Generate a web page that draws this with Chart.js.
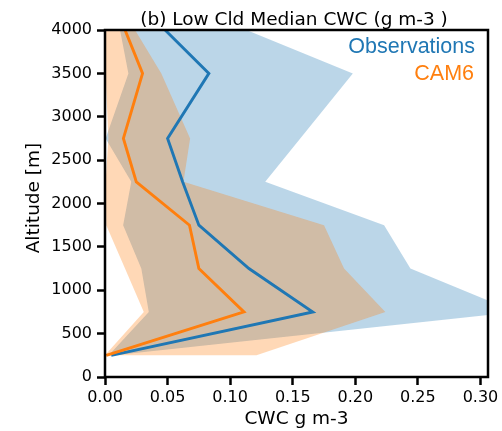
<!DOCTYPE html>
<html>
<head>
<meta charset="utf-8">
<script src="https://cdn.jsdelivr.net/npm/chart.js@4"></script>
<style>
  html, body { margin: 0; padding: 0; background: #fff; }
  #c { display: block; }
</style>
</head>
<body>
<canvas id="c" width="502" height="431"></canvas>
<script>
// ---- data ----
const altitudes = [250, 750, 1250, 1750, 2250, 2750, 3500, 4000];
const obsMedian = [0.005, 0.166, 0.115, 0.075, 0.062, 0.050, 0.083, 0.048];
const obsLow    = [0.003, 0.035, 0.029, 0.0145, 0.021, 0.0005, 0.0187, 0.012];
const obsHigh   = [0.007, 0.328, 0.244, 0.223, 0.128, 0.156, 0.198, 0.113];
const camMedian = [0.001, 0.111, 0.075, 0.0675, 0.025, 0.0147, 0.030, 0.016];
const camLow    = [0.000, 0.031, 0.016, 0.001, 0.0005, 0.0027, 0.0005, 0.0005];
const camHigh   = [0.121, 0.224, 0.191, 0.175, 0.0627, 0.068, 0.045, 0.024];
const xTicks = [0, 0.05, 0.10, 0.15, 0.20, 0.25, 0.30];
const yTicks = [0, 500, 1000, 1500, 2000, 2500, 3000, 3500, 4000];
const seriesNames = ['Observations', 'CAM6'];
const titleText = '(b) Low Cld Median CWC (g m-3 )';
const xTitle = 'CWC g m-3';
const yTitle = 'Altitude [m]';

const BLUE = '#1f77b4';
const ORANGE = '#ff7f0e';

function profile(vals) {
  return vals.map((v, i) => ({ x: v, y: altitudes[i] }));
}
function band(low, high) {
  const pts = low.map((v, i) => ({ x: v, y: altitudes[i] }));
  for (let i = high.length - 1; i >= 0; i--) pts.push({ x: high[i], y: altitudes[i] });
  return pts;
}

const decor = {
  id: 'decor',
  afterDraw(chart) {
    const ctx = chart.ctx;
    const a = chart.chartArea;
    ctx.save();
    // frame
    ctx.strokeStyle = '#000';
    ctx.lineWidth = 2.5;
    ctx.strokeRect(a.left, a.top, a.right - a.left, a.bottom - a.top);
    // title
    ctx.fillStyle = '#000';
    ctx.font = '18.5px "DejaVu Sans"';
    ctx.textAlign = 'center';
    ctx.textBaseline = 'alphabetic';
    ctx.fillText(titleText, 294, 25);
    // x title
    ctx.fillText(xTitle, (a.left + a.right) / 2, 424);
    // y title
    ctx.save();
    ctx.translate(34.5, 198);
    ctx.rotate(-Math.PI / 2);
    ctx.textBaseline = 'middle';
    ctx.fillText(yTitle, 0, 0);
    ctx.restore();
    // legend text
    ctx.font = '21.5px "Liberation Sans"';
    ctx.textAlign = 'right';
    ctx.fillStyle = BLUE;
    ctx.fillText(seriesNames[0], a.right - 13, 53);
    ctx.fillStyle = ORANGE;
    ctx.fillText(seriesNames[1], a.right - 14, 80);
    ctx.restore();
  }
};

new Chart(document.getElementById('c'), {
  type: 'scatter',
  data: {
    datasets: [
      { label: 'obs range', data: band(obsLow, obsHigh), showLine: true, fill: 'shape',
        backgroundColor: 'rgba(31,119,180,0.3)', borderWidth: 0, pointRadius: 0, order: 4 },
      { label: 'cam range', data: band(camLow, camHigh), showLine: true, fill: 'shape',
        backgroundColor: 'rgba(255,127,14,0.3)', borderWidth: 0, pointRadius: 0, order: 3 },
      { label: seriesNames[0], data: profile(obsMedian), showLine: true, fill: false,
        borderColor: BLUE, borderWidth: 2.9, pointRadius: 0, order: 2 },
      { label: seriesNames[1], data: profile(camMedian), showLine: true, fill: false,
        borderColor: ORANGE, borderWidth: 2.9, pointRadius: 0, order: 1 }
    ]
  },
  options: {
    responsive: false,
    devicePixelRatio: 1,
    animation: false,
    layout: { padding: { top: 30, right: 14, left: 0, bottom: 0 } },
    plugins: { legend: { display: false }, tooltip: { enabled: false }, title: { display: false } },
    scales: {
      x: {
        type: 'linear', min: 0, max: 0.306,
        afterFit: s => { s.height = 54; },
        afterBuildTicks: s => { s.ticks = xTicks.map(v => ({ value: v })); },
        grid: { drawOnChartArea: false, drawTicks: true, tickLength: 8, tickWidth: 2.5, tickColor: '#000' },
        border: { display: false },
        ticks: { color: '#000', font: { family: 'DejaVu Sans', size: 16 }, padding: 3,
                 maxRotation: 0, callback: v => Number(v).toFixed(2) }
      },
      y: {
        type: 'linear', min: 0, max: 4000,
        afterFit: s => { s.width = 105; },
        afterBuildTicks: s => { s.ticks = yTicks.map(v => ({ value: v })); },
        grid: { drawOnChartArea: false, drawTicks: true, tickLength: 8, tickWidth: 2.5, tickColor: '#000' },
        border: { display: false },
        ticks: { color: '#000', font: { family: 'DejaVu Sans', size: 16 }, padding: 5,
                 callback: v => String(v) }
      }
    }
  },
  plugins: [decor]
});
</script>
</body>
</html>
